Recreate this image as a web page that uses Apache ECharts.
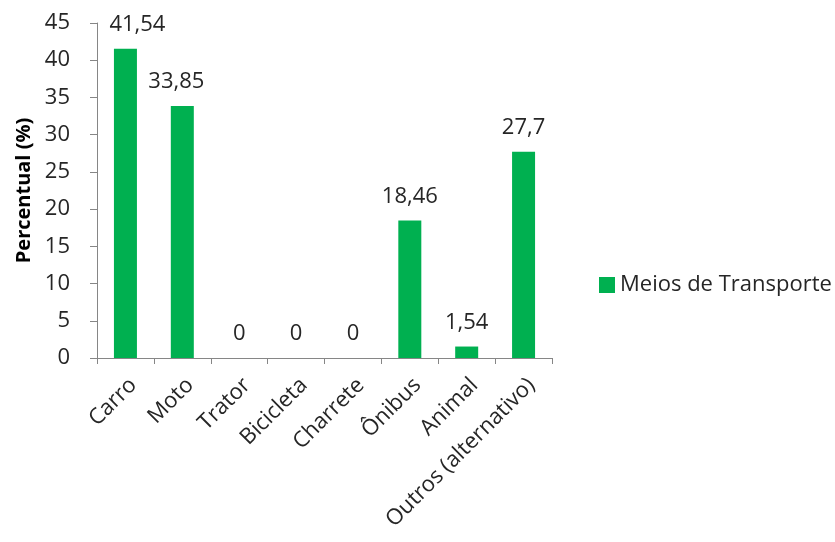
<!DOCTYPE html>
<html>
<head>
<meta charset="utf-8">
<script src="https://cdn.jsdelivr.net/npm/echarts@6/dist/echarts.min.js"></script>
<style>
  html, body { margin: 0; padding: 0; background: #fff; }
  #chart { width: 835px; height: 542px; }
</style>
</head>
<body>
<div id="chart"></div>
<script>
// Meios de transporte utilizados (%)
const categories = ['Carro', 'Moto', 'Trator', 'Bicicleta', 'Charrete', 'Ônibus', 'Animal', 'Outros (alternativo)'];
const values = [41.54, 33.85, 0, 0, 0, 18.46, 1.54, 27.7];
const seriesName = 'Meios de Transporte';
const yAxisTitle = 'Percentual (%)';

// Horizontal nudges for the two tallest value labels (px)
const labelNudge = { 0: 12, 1: -6 };

const FONT = '"Open Sans", "DejaVu Sans", sans-serif';
const TEXT = '#262626';
const AXIS = '#868686';

const barData = values.map((v, i) =>
  labelNudge[i] !== undefined ? { value: v, label: { offset: [labelNudge[i], 0] } } : v
);

const chart = echarts.init(document.getElementById('chart'), null, { renderer: 'canvas' });
chart.setOption({
  animation: false,
  backgroundColor: '#fff',
  textStyle: { fontFamily: FONT },
  grid: { left: 97, top: 23, right: 283, bottom: 184, containLabel: false },
  legend: {
    data: [seriesName],
    left: 594,
    top: 269,
    itemWidth: 16,
    itemHeight: 16,
    icon: 'rect',
    textStyle: { fontFamily: FONT, fontSize: 22, color: TEXT }
  },
  xAxis: {
    type: 'category',
    data: categories,
    axisLine: { lineStyle: { color: AXIS, width: 1 } },
    axisTick: { show: true, length: 6, lineStyle: { color: AXIS } },
    axisLabel: {
      rotate: 45, fontSize: 22, color: TEXT, fontFamily: FONT,
      margin: 16, interval: 0, verticalAlign: 'top'
    }
  },
  yAxis: {
    type: 'value',
    min: 0,
    max: 45,
    interval: 5,
    name: yAxisTitle,
    nameLocation: 'middle',
    nameRotate: 90,
    nameGap: 62,
    nameTextStyle: { fontSize: 20, fontWeight: 'bold', color: '#000', fontFamily: FONT },
    splitLine: { show: false },
    axisLine: { show: true, lineStyle: { color: AXIS, width: 1 } },
    axisTick: { show: true, length: 7, lineStyle: { color: AXIS } },
    axisLabel: { fontSize: 22, color: TEXT, fontFamily: FONT, margin: 27 }
  },
  series: [{
    name: seriesName,
    type: 'bar',
    data: barData,
    barWidth: 23,
    itemStyle: { color: '#00B050' },
    label: {
      show: true,
      position: 'top',
      distance: 13,
      fontSize: 22,
      color: TEXT,
      fontFamily: FONT,
      formatter: p => String(p.value).replace('.', ',')
    }
  }]
});
</script>
</body>
</html>
